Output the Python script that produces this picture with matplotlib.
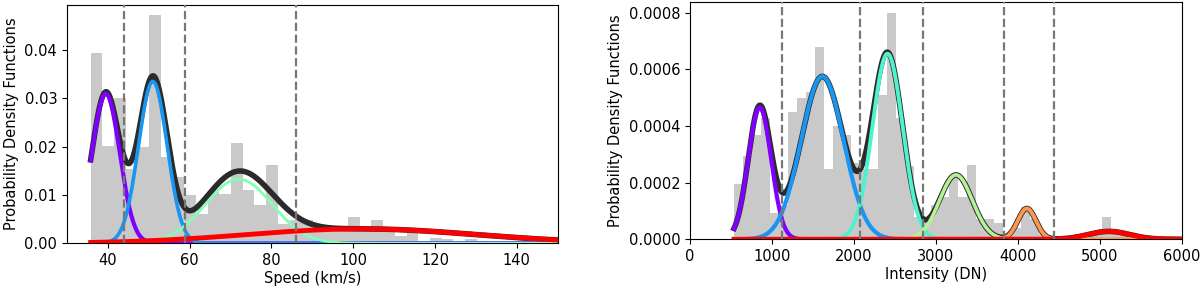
import numpy as np
import matplotlib
matplotlib.use("Agg")
import matplotlib.pyplot as plt
from matplotlib import cm

# ---------------- Data: left panel (speed) ----------------
speed_bin_start = 35.8
speed_bin_width = 2.86
speed_hist = [0.0394, 0.0202, 0.0300, 0.0154, 0.0199, 0.0472, 0.0178, 0.0138,
              0.0100, 0.0061, 0.0109, 0.0103, 0.0207, 0.0111, 0.0080, 0.0163,
              0.0040, 0.0048, 0.0048, 0.0030, 0.0028, 0.0030, 0.0055, 0.0030,
              0.0048, 0.0030, 0.0016, 0.0032, 0.0005, 0.0012, 0.0008, 0.0000,
              0.0010, 0.0005, 0.0000, 0.0000, 0.0003, 0.0000, 0.0000, 0.0004]
speed_means = [39.5, 51.0, 72.0, 102.0]
speed_sigmas = [3.4, 3.5, 8.2, 28.0]
speed_weights = [0.264, 0.294, 0.273, 0.210]
speed_cmap_pos = [0.0, 0.2, 0.5, 1.0]
speed_boundaries = [44.0, 58.9, 86.0]
speed_range = [35.8, 150.0]

# ---------------- Data: right panel (intensity) ----------------
int_bin_start = 537.0
int_bin_width = 109.5
int_hist = [0.000195, 0.000295, 0.000370, 0.000430, 0.000092, 0.000120,
            0.000450, 0.000500, 0.000520, 0.000680, 0.000250, 0.000400,
            0.000370, 0.000270, 0.000250, 0.000250, 0.000510, 0.000800,
            0.000430, 0.000260, 0.000080, 0.000080, 0.000120, 0.000150,
            0.000227, 0.000148, 0.000262, 0.000070, 0.000070, 0.000056,
            0.000010, 0.000040, 0.000113, 0.000070, 0.000020, 0.000005,
            0.000005, 0.000010, 0.000020, 0.000020, 0.000030, 0.000080,
            0.000030, 0.000020, 0.000010, 0.000005]
int_means = [850.0, 1615.0, 2410.0, 3245.0, 4110.0, 5110.0]
int_sigmas = [140.0, 260.0, 185.0, 200.0, 110.0, 250.0]
int_weights = [0.1635, 0.375, 0.304, 0.114, 0.030, 0.0175]
int_cmap_pos = [0.0, 0.2, 0.4, 0.6, 0.8, 1.0]
int_boundaries = [1120, 2073, 2839, 3829, 4445]
int_range = [537.0, 6000.0]

FS = 10.5


def gauss(x, m, s, w):
    return w * np.exp(-0.5 * ((x - m) / s) ** 2) / (s * np.sqrt(2 * np.pi))


def panel(ax, start, width, hist, means, sigmas, weights, cpos, bounds, xr,
          comp_lw, tot_lw):
    n = len(hist)
    edges = start + width * np.arange(n + 1)
    centers = 0.5 * (edges[:-1] + edges[1:])
    ax.hist(centers, bins=edges, weights=hist, color='#c9c9c9')
    x = np.linspace(xr[0], xr[1], 800)
    comps = [gauss(x, m, s, w) for m, s, w in zip(means, sigmas, weights)]
    total = np.sum(comps, axis=0)
    ax.plot(x, total, color='#2b2b2b', lw=tot_lw, zorder=3)
    for c, p, lw in zip(comps, cpos, comp_lw):
        ax.plot(x, c, color=cm.rainbow(p), lw=lw, zorder=4)
    for b in bounds:
        ax.axvline(b, color='#777777', ls='--', lw=1.6, zorder=5)
    ax.set_ylabel('Probability Density Functions', fontsize=FS)


fig = plt.figure(figsize=(12, 2.89), dpi=100)
ax1 = fig.add_axes([0.0558, 0.158, 0.409, 0.8256])
ax2 = fig.add_axes([0.575, 0.172, 0.4098, 0.822])

panel(ax1, speed_bin_start, speed_bin_width, speed_hist, speed_means,
      speed_sigmas, speed_weights, speed_cmap_pos, speed_boundaries,
      speed_range, [3.0, 2.6, 2.0, 3.5], 4.0)
ax1.set_xlim(30, 150)
ax1.set_ylim(0, 0.0494)
ax1.set_xticks([40, 60, 80, 100, 120, 140])
ax1.set_yticks([0.00, 0.01, 0.02, 0.03, 0.04])
ax1.yaxis.set_major_formatter(matplotlib.ticker.FormatStrFormatter('%.2f'))
ax1.set_xlabel('Speed (km/s)', fontsize=FS, labelpad=2)

panel(ax2, int_bin_start, int_bin_width, int_hist, int_means,
      int_sigmas, int_weights, int_cmap_pos, int_boundaries,
      int_range, [3.0, 3.0, 2.8, 2.6, 2.8, 3.5], 4.0)
ax2.set_xlim(0, 6000)
ax2.set_ylim(0, 0.000839)
ax2.set_xticks([0, 1000, 2000, 3000, 4000, 5000, 6000])
ax2.set_yticks([0, 0.0002, 0.0004, 0.0006, 0.0008])
ax2.yaxis.set_major_formatter(matplotlib.ticker.FormatStrFormatter('%.4f'))
ax2.set_xlabel('Intensity (DN)', fontsize=FS, labelpad=2)

for ax in (ax1, ax2):
    ax.tick_params(labelsize=FS)

fig.savefig('out.png', dpi=100)
